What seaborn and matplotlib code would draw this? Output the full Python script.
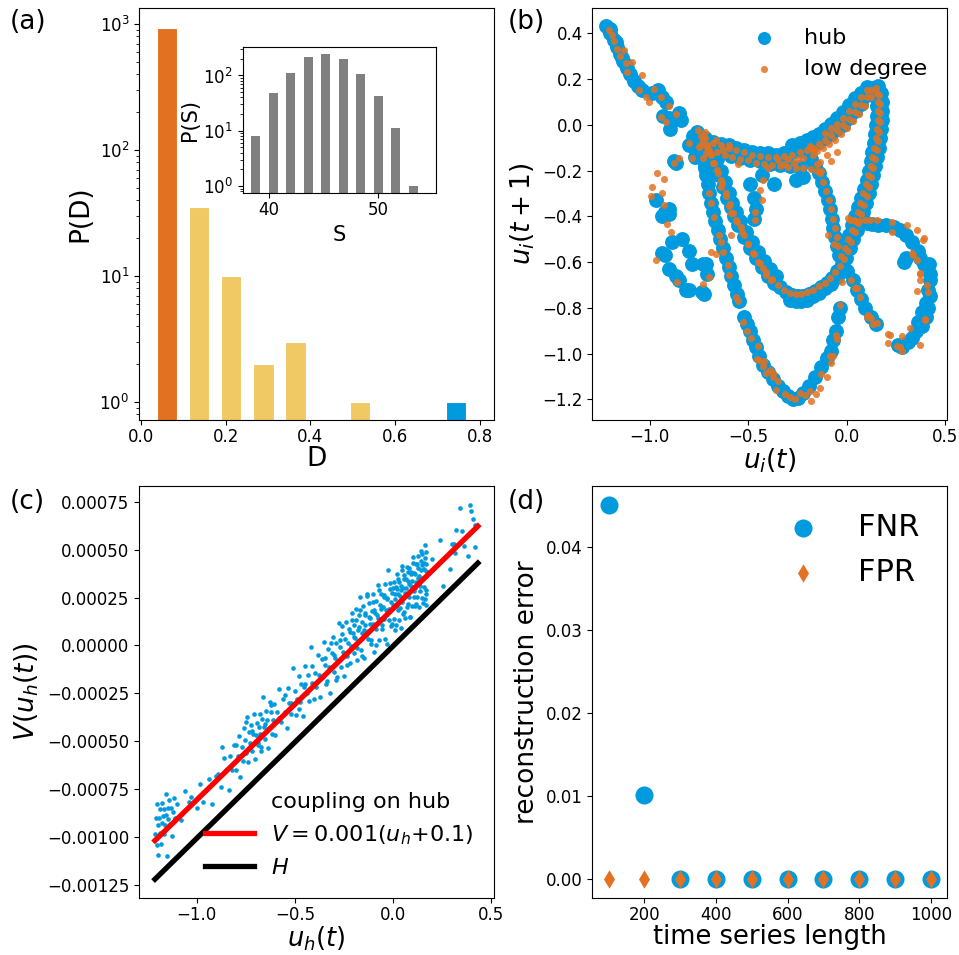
import numpy as np
import pandas as pd
import matplotlib
matplotlib.use('Agg')
import matplotlib.pyplot as plt
from matplotlib.ticker import FuncFormatter
import seaborn as sns

plt.rcParams['xtick.labelsize'] = 12
plt.rcParams['ytick.labelsize'] = 12
plt.rcParams['xtick.major.pad'] = 2.5

BLUE = '#009BDE'
ORANGE = '#E27222'
YELLOW = '#F0C864'

# ---- (a) distribution of D, inset distribution of S
d_centers = [0.061, 0.137, 0.213, 0.289, 0.365, 0.517, 0.745]
d_counts = [930, 35, 10, 2, 3, 1, 1]
d_group = ['low', 'mid', 'mid', 'mid', 'mid', 'mid', 'hub']
d_palette = {'low': ORANGE, 'mid': YELLOW, 'hub': BLUE}

s_centers = [38.8, 40.4, 42.0, 43.6, 45.2, 46.8, 48.4, 50.0, 51.6, 53.2]
s_counts = [8, 49, 112, 212, 245, 195, 105, 43, 11, 1]

# ---- (b) return map u_i(t) -> u_i(t+1), points read along the attractor
hub_tail = [(-1.22, 0.43), (-1.20, 0.40), (-1.18, 0.37), (-1.165, 0.34), (-1.15, 0.31),
            (-1.135, 0.28), (-1.115, 0.25), (-1.10, 0.22), (-1.08, 0.19), (-1.06, 0.17),
            (-1.04, 0.15), (-0.99, 0.14), (-0.96, 0.15), (-0.94, 0.12), (-0.915, 0.10),
            (-0.93, 0.04), (-0.90, 0.03), (-0.88, 0.025), (-0.85, 0.05), (-0.84, 0.02),
            (-0.895, -0.02), (-1.20, 0.42), (-1.17, 0.36), (-1.14, 0.29), (-1.12, 0.26)]
hub_cluster = [(-0.78, -0.05), (-0.76, -0.03), (-0.80, -0.09), (-0.77, -0.14), (-0.74, -0.10),
               (-0.73, -0.15), (-0.72, -0.19)]
hub_top = [(-0.72, -0.06), (-0.68, -0.075), (-0.64, -0.085), (-0.60, -0.09), (-0.56, -0.10),
           (-0.52, -0.11), (-0.48, -0.12), (-0.44, -0.125), (-0.40, -0.125), (-0.36, -0.13),
           (-0.32, -0.125), (-0.28, -0.12), (-0.24, -0.11), (-0.20, -0.10), (-0.17, -0.09),
           (-0.14, -0.075), (-0.11, -0.06), (-0.08, -0.04), (-0.05, -0.02), (-0.02, 0.0),
           (0.01, 0.03), (0.04, 0.06), (0.07, 0.09), (0.10, 0.13), (0.13, 0.16), (0.16, 0.17)]
hub_top_outer = [(0.10, 0.165), (0.07, 0.14), (0.04, 0.115), (0.01, 0.085), (-0.02, 0.055),
                 (-0.05, 0.03), (-0.08, 0.005), (-0.11, -0.02), (-0.14, -0.04), (-0.17, -0.055),
                 (-0.20, -0.065), (-0.24, -0.08), (-0.28, -0.09)]
hub_loop = [(0.175, 0.14), (0.18, 0.10), (0.18, 0.06), (0.18, 0.02), (0.175, -0.02), (0.17, -0.06),
            (0.165, -0.10), (0.155, -0.14), (0.145, -0.18), (0.135, -0.22), (0.12, -0.26),
            (0.11, -0.30), (0.095, -0.34), (0.08, -0.38), (0.065, -0.42), (0.05, -0.46),
            (0.03, -0.50), (0.015, -0.54), (-0.005, -0.58), (-0.025, -0.61), (-0.05, -0.64),
            (-0.075, -0.67), (-0.10, -0.69), (-0.13, -0.71), (-0.16, -0.725), (-0.19, -0.74),
            (-0.22, -0.75), (-0.25, -0.75), (-0.28, -0.745), (-0.31, -0.73), (-0.34, -0.71),
            (-0.37, -0.69), (-0.40, -0.66), (-0.43, -0.62), (-0.46, -0.58), (-0.49, -0.54),
            (-0.52, -0.49), (-0.55, -0.44), (-0.57, -0.40), (-0.59, -0.36), (-0.61, -0.32),
            (-0.63, -0.27), (-0.65, -0.22), (-0.67, -0.17), (-0.69, -0.13), (-0.71, -0.09)]
hub_loop_inner = [(0.15, 0.12), (0.155, 0.08), (0.155, 0.04), (0.15, 0.0), (0.145, -0.04),
                  (0.14, -0.08), (0.13, -0.12), (0.12, -0.16), (0.11, -0.20), (0.10, -0.24),
                  (0.085, -0.28), (0.07, -0.32), (0.055, -0.36), (0.04, -0.40), (0.025, -0.44),
                  (0.01, -0.48), (-0.01, -0.52), (-0.03, -0.56)]
hub_loop_low = [(-0.05, -0.665), (-0.08, -0.695), (-0.11, -0.715), (-0.14, -0.735), (-0.17, -0.75),
                (-0.20, -0.765), (-0.23, -0.77), (-0.26, -0.77), (-0.29, -0.765)]
hub_loop_side = [(-0.66, -0.15), (-0.64, -0.20), (-0.62, -0.25), (-0.60, -0.30), (-0.58, -0.34),
                 (-0.56, -0.38), (-0.54, -0.42), (-0.51, -0.47), (-0.48, -0.51), (-0.45, -0.555),
                 (-0.42, -0.595), (-0.39, -0.63), (-0.36, -0.66)]
hub_inner = [(-0.20, -0.12), (-0.18, -0.15), (-0.16, -0.18), (-0.14, -0.21), (-0.125, -0.25),
             (-0.11, -0.29), (-0.095, -0.33), (-0.085, -0.37), (-0.075, -0.41), (-0.07, -0.45),
             (-0.06, -0.49), (-0.05, -0.53), (-0.04, -0.57)]
hub_band = [(-0.70, -0.11), (-0.64, -0.125), (-0.59, -0.135), (-0.54, -0.145), (-0.49, -0.155),
            (-0.44, -0.16), (-0.39, -0.17), (-0.34, -0.175), (-0.29, -0.18), (-0.24, -0.185),
            (-0.256, -0.24), (-0.22, -0.23), (-0.43, -0.22), (-0.37, -0.26), (-0.49, -0.26),
            (-0.47, -0.32), (-0.46, -0.37), (-0.47, -0.41)]
hub_strand = [(-0.72, -0.18), (-0.715, -0.22), (-0.705, -0.26), (-0.70, -0.30), (-0.69, -0.34),
              (-0.68, -0.38), (-0.67, -0.42), (-0.655, -0.46), (-0.645, -0.50), (-0.63, -0.54),
              (-0.615, -0.58), (-0.60, -0.62), (-0.585, -0.66), (-0.57, -0.70), (-0.555, -0.74),
              (-0.545, -0.77)]
hub_bottom = [(-0.52, -0.84), (-0.505, -0.87), (-0.49, -0.90), (-0.475, -0.94), (-0.46, -0.97),
              (-0.445, -1.01), (-0.425, -1.05), (-0.40, -1.08), (-0.375, -1.11), (-0.35, -1.14),
              (-0.325, -1.165), (-0.30, -1.185), (-0.275, -1.20), (-0.25, -1.195), (-0.22, -1.17),
              (-0.19, -1.14), (-0.16, -1.10), (-0.13, -1.06), (-0.10, -1.02), (-0.08, -0.99),
              (-0.07, -0.94), (-0.055, -0.90), (-0.045, -0.84), (-0.035, -0.80)]
hub_cross = [(0.0, -0.64), (0.03, -0.68), (0.05, -0.72), (0.07, -0.76), (0.09, -0.80),
             (0.12, -0.84), (0.15, -0.87)]
hub_right = [(0.07, -0.42), (0.10, -0.43), (0.13, -0.435), (0.16, -0.44), (0.20, -0.44),
             (0.24, -0.445), (0.27, -0.46), (0.30, -0.48), (0.33, -0.51), (0.36, -0.55),
             (0.37, -0.58), (0.39, -0.61), (0.415, -0.61), (0.42, -0.65), (0.42, -0.68),
             (0.41, -0.72), (0.42, -0.75), (0.40, -0.78), (0.41, -0.80), (0.38, -0.82),
             (0.40, -0.84), (0.36, -0.86), (0.38, -0.88), (0.35, -0.90), (0.33, -0.93),
             (0.31, -0.95), (0.28, -0.97), (0.26, -0.96), (0.30, -0.58), (0.29, -0.60)]
hub_left = [(-0.935, -0.40), (-0.90, -0.39), (-0.885, -0.51), (-0.834, -0.50), (-0.80, -0.55),
            (-0.92, -0.57), (-0.935, -0.56), (-0.90, -0.63), (-0.867, -0.66), (-0.85, -0.68),
            (-0.817, -0.72), (-0.80, -0.72), (-0.783, -0.61), (-0.732, -0.61), (-0.715, -0.61),
            (-0.707, -0.65), (-0.723, -0.74), (-0.736, -0.73), (-0.97, -0.33), (-0.90, -0.37),
            (-0.876, -0.16), (-0.866, -0.165), (-0.92, -0.38)]

low_tail = [(-1.206, 0.412), (-1.18, 0.368), (-1.164, 0.332), (-1.13, 0.325), (-1.088, 0.274),
            (-1.113, 0.23), (-1.037, 0.216), (-1.054, 0.151), (-0.978, 0.158), (-1.02, 0.122),
            (-1.003, 0.10), (-0.944, 0.122), (-0.901, 0.081), (-0.944, 0.035), (-0.918, 0.013),
            (-0.868, 0.049), (-1.19, 0.39), (-1.15, 0.30), (-1.12, 0.27)]
low_cluster = [(-0.757, -0.023), (-0.732, -0.067), (-0.749, -0.096), (-0.707, -0.096), (-0.80, -0.081),
               (-0.715, -0.125), (-0.69, -0.13), (-0.664, -0.067), (-0.63, -0.11), (-0.596, -0.088),
               (-0.783, -0.147), (-0.732, -0.147), (-0.681, -0.168), (-0.656, -0.197), (-0.639, -0.24),
               (-0.639, -0.27), (-0.698, -0.299), (-0.69, -0.342), (-0.613, -0.313), (-0.596, -0.356),
               (-0.588, -0.386), (-0.85, -0.146), (-0.876, -0.168), (-0.74, -0.05), (-0.72, -0.03)]
low_left = [(-0.961, -0.212), (-0.927, -0.238), (-0.986, -0.27), (-0.935, -0.299), (-0.995, -0.313),
            (-0.927, -0.349), (-0.91, -0.432), (-0.893, -0.468), (-0.97, -0.591), (-0.859, -0.686),
            (-0.732, -0.696), (-0.698, -0.664), (-0.69, -0.555), (-0.664, -0.565), (-0.647, -0.483),
            (-0.639, -0.51), (-0.63, -0.555), (-0.605, -0.613), (-0.596, -0.657), (-0.563, -0.751),
            (-0.55, -0.77), (-0.672, -0.403)]
low_side = [(-0.588, -0.483), (-0.563, -0.417), (-0.537, -0.446), (-0.52, -0.483), (-0.503, -0.519),
            (-0.478, -0.562), (-0.452, -0.599), (-0.427, -0.627), (-0.41, -0.657), (-0.385, -0.678)]
low_top = [(-0.72, -0.06), (-0.68, -0.08), (-0.64, -0.09), (-0.60, -0.10), (-0.56, -0.11),
           (-0.52, -0.12), (-0.48, -0.13), (-0.44, -0.135), (-0.40, -0.14), (-0.36, -0.14),
           (-0.32, -0.135), (-0.28, -0.13), (-0.24, -0.12), (-0.20, -0.11), (-0.17, -0.10),
           (-0.14, -0.085), (-0.11, -0.065), (-0.08, -0.045), (-0.05, -0.025), (-0.02, 0.0),
           (0.01, 0.025), (0.04, 0.055), (0.07, 0.085), (0.10, 0.12), (0.125, 0.15), (0.15, 0.16),
           (0.12, 0.12), (0.09, 0.08), (0.06, 0.045), (0.03, 0.015), (0.0, -0.015), (-0.03, -0.04),
           (-0.06, -0.065), (-0.09, -0.085), (-0.12, -0.10), (-0.15, -0.115),
           (0.10, 0.15), (0.07, 0.12), (0.04, 0.09), (0.01, 0.06), (-0.02, 0.03), (-0.05, 0.005),
           (-0.08, -0.015), (-0.11, -0.035)]
low_loop = [(0.165, 0.13), (0.17, 0.09), (0.17, 0.05), (0.17, 0.01), (0.165, -0.03), (0.16, -0.07),
            (0.155, -0.11), (0.145, -0.15), (0.135, -0.19), (0.125, -0.23), (0.11, -0.27),
            (0.10, -0.31), (0.085, -0.35), (0.07, -0.39), (0.055, -0.43), (0.04, -0.47),
            (0.02, -0.51), (0.005, -0.55), (-0.015, -0.585), (-0.035, -0.615), (-0.06, -0.645),
            (-0.085, -0.67), (-0.11, -0.69), (-0.14, -0.705), (-0.17, -0.72), (-0.20, -0.73),
            (-0.23, -0.74), (-0.26, -0.74), (-0.29, -0.735), (-0.32, -0.72), (-0.35, -0.70),
            (-0.38, -0.675), (-0.41, -0.645), (-0.44, -0.605), (-0.47, -0.565), (-0.50, -0.52),
            (-0.53, -0.47), (-0.555, -0.425), (-0.575, -0.385), (-0.595, -0.345), (-0.615, -0.30),
            (-0.635, -0.255), (-0.655, -0.21), (-0.675, -0.165), (-0.695, -0.125), (-0.71, -0.09),
            (0.155, 0.14), (0.16, 0.10), (0.16, 0.06), (0.158, 0.02), (0.152, -0.02), (0.148, -0.06),
            (0.14, -0.10), (0.13, -0.14), (0.12, -0.18), (0.108, -0.22), (0.095, -0.26),
            (0.082, -0.30), (0.068, -0.34), (0.055, -0.38), (0.04, -0.42), (0.025, -0.46),
            (0.008, -0.50), (-0.01, -0.54), (-0.03, -0.575)]
low_band = [(-0.74, -0.09), (-0.70, -0.11), (-0.66, -0.12), (-0.62, -0.13), (-0.58, -0.14),
            (-0.54, -0.15), (-0.50, -0.155), (-0.46, -0.165), (-0.42, -0.17), (-0.38, -0.175),
            (-0.34, -0.18), (-0.30, -0.185), (-0.26, -0.19), (-0.22, -0.19), (-0.18, -0.195),
            (-0.15, -0.2)]
low_inner = [(-0.17, -0.13), (-0.15, -0.17), (-0.135, -0.21), (-0.12, -0.25), (-0.105, -0.29),
             (-0.09, -0.33), (-0.08, -0.37), (-0.07, -0.41), (-0.06, -0.45), (-0.05, -0.49),
             (-0.045, -0.53)]
low_bottom = [(-0.529, -0.86), (-0.508, -0.899), (-0.486, -0.932), (-0.452, -0.968), (-0.447, -1.026),
              (-0.418, -1.033), (-0.427, -1.055), (-0.41, -1.084), (-0.376, -1.10), (-0.457, -1.022),
              (-0.39, -1.073), (-0.375, -1.084), (-0.349, -1.12), (-0.357, -1.157), (-0.315, -1.178),
              (-0.264, -1.2), (-0.239, -1.171), (-0.188, -1.164), (-0.18, -1.207), (-0.154, -1.178),
              (-0.137, -1.149), (-0.129, -1.091), (-0.103, -1.10), (-0.078, -1.04), (-0.086, -1.01),
              (-0.069, -1.01), (-0.056, -0.917), (-0.052, -0.935), (-0.036, -0.787), (-0.027, -0.686),
              (-0.29, -1.19), (-0.21, -1.18)]
low_right = [(0.015, -0.417), (0.117, -0.417), (0.151, -0.417), (0.227, -0.425), (0.303, -0.439),
             (0.354, -0.461), (0.388, -0.504), (0.227, -0.468), (0.329, -0.562), (0.354, -0.591),
             (0.371, -0.649), (0.371, -0.678), (0.405, -0.70), (0.413, -0.729), (0.396, -0.852),
             (0.32, -0.888), (0.278, -0.925), (0.219, -0.917), (0.21, -0.954), (0.252, -0.968),
             (0.278, -0.99), (0.371, -0.961), (0.211, -0.914), (0.27, -0.972), (0.398, -0.849),
             (0.355, -0.726), (0.372, -0.654), (0.338, -0.568), (0.389, -0.495), (0.008, -0.409),
             (0.034, -0.416), (0.06, -0.42), (0.09, -0.415)]
low_cross = [(0.041, -0.714), (0.066, -0.751), (0.108, -0.83), (0.125, -0.845), (0.151, -0.867),
             (0.051, -0.712), (0.10, -0.842), (0.135, -0.871), (0.02, -0.68)]
low_scatter = [(-0.18, -0.103), (-0.22, -0.146), (-0.27, -0.168), (-0.32, -0.17), (-0.129, -0.204),
               (-0.137, -0.161), (-0.186, -0.091), (-0.169, -0.113), (-0.426, -0.243), (-0.44, -0.286),
               (-0.432, -0.329), (-0.465, -0.38), (-0.465, -0.416), (-0.095, -0.483), (-0.064, -0.52),
               (-0.10, -0.13), (-0.05, -0.12), (-0.08, -0.16), (-0.35, -0.155), (-0.30, -0.15),
               (-0.25, -0.15), (-0.40, -0.19), (-0.55, -0.17)]

hub_pts = (hub_tail + hub_cluster + hub_top + hub_top_outer + hub_loop + hub_loop_inner
           + hub_loop_low + hub_loop_side + hub_inner + hub_band + hub_strand + hub_bottom
           + hub_cross + hub_right + hub_left)
low_pts = (low_tail + low_cluster + low_left + low_side + low_top + low_loop + low_band
           + low_inner + low_bottom + low_right + low_cross + low_scatter)

# ---- (c) coupling on hub: u_h and offset of V from the red line (units of 1e-5)
c_u = [-1.215, -1.21, -1.205, -1.20, -1.198, -1.195, -1.19, -1.188, -1.185, -1.18, -1.178, -1.175,
       -1.17, -1.168, -1.165, -1.16, -1.158, -1.155, -1.15, -1.148, -1.145, -1.14, -1.135, -1.13,
       -1.125, -1.12, -1.115, -1.11, -1.10,
       -1.08, -1.06, -1.04, -1.03, -1.0, -0.985, -0.97, -0.955,
       -0.937, -0.92, -0.904, -0.89, -0.878, -0.87, -0.861, -0.85, -0.836, -0.83, -0.82, -0.81, -0.80, -0.80,
       -0.79, -0.785, -0.777, -0.77, -0.765, -0.76, -0.755, -0.75, -0.745, -0.74, -0.735, -0.73, -0.725,
       -0.72, -0.715, -0.71, -0.705, -0.70, -0.695, -0.69, -0.685, -0.68, -0.675, -0.67, -0.665, -0.66,
       -0.655, -0.65, -0.645, -0.64, -0.635, -0.63, -0.625, -0.62, -0.615, -0.61, -0.605, -0.60,
       -0.59, -0.58, -0.57, -0.56, -0.55, -0.54, -0.535, -0.53, -0.52, -0.51, -0.50, -0.495, -0.49, -0.48,
       -0.475, -0.47, -0.46, -0.455, -0.45, -0.44, -0.435, -0.43, -0.42, -0.415, -0.41, -0.40,
       -0.395, -0.39, -0.38, -0.375, -0.37, -0.36, -0.355, -0.35, -0.345, -0.34, -0.33, -0.325, -0.32,
       -0.31, -0.305, -0.30, -0.295, -0.29, -0.285, -0.28, -0.275, -0.27, -0.265, -0.26, -0.255, -0.25,
       -0.245, -0.24, -0.235, -0.23, -0.225, -0.22, -0.215, -0.21, -0.205,
       -0.20, -0.196, -0.192, -0.188, -0.184, -0.18, -0.176, -0.172, -0.168, -0.164, -0.16, -0.156,
       -0.152, -0.148, -0.144, -0.14, -0.136, -0.132, -0.128, -0.124, -0.12, -0.116, -0.112, -0.108,
       -0.104, -0.10, -0.096, -0.092, -0.088, -0.084, -0.08, -0.076, -0.072, -0.068, -0.064, -0.06,
       -0.056, -0.052, -0.048, -0.044, -0.04, -0.036, -0.032, -0.028, -0.024, -0.02, -0.016, -0.012,
       -0.008, -0.004,
       0.0, 0.003, 0.006, 0.009, 0.012, 0.015, 0.018, 0.021, 0.024, 0.027, 0.03, 0.033, 0.036, 0.039,
       0.042, 0.045, 0.048, 0.051, 0.054, 0.057, 0.06, 0.063, 0.066, 0.069, 0.072, 0.075, 0.078, 0.081,
       0.084, 0.087, 0.09, 0.093, 0.096, 0.099, 0.102, 0.105, 0.108, 0.111, 0.114, 0.117, 0.12, 0.123,
       0.126, 0.129, 0.132, 0.135, 0.138, 0.141, 0.144, 0.147, 0.15, 0.153, 0.156, 0.159, 0.162, 0.165,
       0.168, 0.17,
       0.2, 0.239, 0.255, 0.289, 0.30, 0.31, 0.315, 0.323, 0.34, 0.35, 0.36, 0.382, 0.391, 0.40, 0.408,
       0.416, 0.42]
c_off = [4, 12, -3, 18, 7, -9, 10, 2, 14, -5, 6, 16,
         9, -1, 12, 3, 19, 8, -14, 11, 5, 14, 1, 9,
         -6, 6, 13, 2, 8,
         -2, 11, 3, 5, -4, 7, -4, 1,
         5, -10, 3, 3, -5, 15, 8, 1, -11, 6, -2, 10, 9, -4,
         2, 12, -10, 5, -3, 14, 7, 0, 18, -6, 9, 3, 12,
         -2, 6, 16, -8, 4, 10, -1, 7, 13, 2, -5, 9, 20,
         4, -3, 11, 6, -9, 1, 14, 8, -4, 3, 11, -6,
         5, 16, -2, 9, 1, -8, 12, 4, -3, 20, 7, -6, 2, 13,
         -1, 8, -10, 5, 15, 0, 9, -5, 22, 3, 11, -7,
         6, -2, 14, 3, -9, 10, 0, 18, 5, -5, 12, 2, -12,
         8, 16, -3, 4, 11, -7, 1, 20, 7, -4, 13, 3, -10,
         9, 17, -1, 5, 12, -6, 2, 15, 8,
         -3, 11, 4, 19, -8, 7, 1, 14, 23, -5, 9, 3,
         17, -11, 6, 12, 0, 21, -3, 8, 15, 4, -7, 10,
         18, 2, -13, 7, 13, -2, 5, 20, -9, 9, 1, 14,
         -5, 6, 11, -1, 17, 3, -15, 8, 23, -4, 12, 5,
         -8, 9,
         2, 14, -6, 7, -12, 10, 0, 16, -3, 5, -9, 11, 3, -14,
         8, 18, -1, 6, -7, 12, 1, -11, 9, 4, 15, -5, 7, -2,
         13, -13, 3, 10, -8, 5, 17, -4, 8, 0, -10, 12, 2, -6,
         9, 15, -12, 4, -2, 11, 6, -9, 14, 1, -4, 8, -11, 17,
         3, -7,
         6, 12, -13.5, -8, 4, 3, -2, 9, 18.6, 6, -3, -10.7, 15, 11, 6,
         -9, 2]
c_u_dense = [-0.345, -0.335, -0.315, -0.30, -0.29, -0.27, -0.26, -0.25, -0.235, -0.22,
             -0.21, -0.198, -0.19, -0.182, -0.174, -0.166, -0.158, -0.15, -0.142, -0.134,
             -0.126, -0.118, -0.11, -0.102, -0.094, -0.086, -0.078, -0.07, -0.062, -0.054,
             -0.046, -0.038, -0.03, -0.022, -0.014, -0.006, 0.002, 0.01, 0.016, 0.022,
             0.028, 0.034, 0.04, 0.046, 0.052, 0.058, 0.064, 0.07, 0.076, 0.082,
             0.088, 0.094, 0.1, 0.106, 0.112, 0.118, 0.124, 0.13, 0.136, 0.142,
             0.148, 0.154, 0.16, 0.166, 0.17, 0.17, 0.169, 0.168, 0.167,
             -0.55, -0.52, -0.48, -0.45, -0.62, -0.67, -0.72, -0.75, -0.69, -0.65, -0.58]
c_off_dense = [9, -4, 14, 6, -8, 11, 17, 2, -6, 10,
               19, 5, 13, -2, 8, 16, -9, 4, 11, 20,
               1, 7, -5, 14, 9, -10, 3, 17, 6, -3,
               12, -12, 9, 2, 15, -7, 11, 4, -10, 8,
               13, -3, 6, 16, -8, 10, 2, -6, 12, 5,
               -13, 9, 14, -1, 7, -9, 11, 3, -4, 16,
               8, -12, 5, 10, -15, 0, 13, -9, 7,
               10, 3, -4, 6, 12, -7, 8, 16, -2, 5, 1]
red_slope = 0.001
red_shift = 0.19
line_u = [-1.213, 0.433]
red_v = [-0.00102, 0.000623]
h_v = [-0.001222, 0.00043]

# ---- (d) reconstruction error
lengths = [100, 200, 300, 400, 500, 600, 700, 800, 900, 1000]
fnr = [0.0451, 0.0101, 0, 0, 0, 0, 0, 0, 0, 0]
fpr = [0, 0, 0, 0, 0, 0, 0, 0, 0, 0]

fig, axes = plt.subplots(2, 2, figsize=(9.59, 9.55), dpi=100)
fig.subplots_adjust(left=0.145, right=0.9875, top=0.9916, bottom=0.0597,
                    wspace=0.279, hspace=0.160)
ax_a, ax_b, ax_c, ax_d = axes.flat

# (a)
sns.barplot(x=d_centers, y=d_counts, hue=d_group, palette=d_palette, native_scale=True,
            width=0.63, dodge=False, legend=False, edgecolor='white', linewidth=0.8,
            saturation=1, errorbar=None, ax=ax_a)
ax_a.set_yscale('log')
ax_a.set_ylim(0.72, 1340)
ax_a.set_xlim(-0.005, 0.833)
ax_a.set_xticks([0.0, 0.2, 0.4, 0.6, 0.8])
ax_a.set_xlabel('D', fontsize=19, labelpad=0)
ax_a.set_ylabel('P(D)', fontsize=19)

ins = fig.add_axes([0.253, 0.798, 0.202, 0.153])
sns.barplot(x=s_centers, y=s_counts, native_scale=True, width=0.51, color='gray',
            saturation=1, errorbar=None, ax=ins)
ins.set_yscale('log')
ins.set_ylim(0.75, 330)
ins.set_xlim(37.6, 55.3)
ins.set_xticks([40, 50])
ins.set_xlabel('S', fontsize=15)
ins.set_ylabel('P(S)', fontsize=15, labelpad=2)

# (b)
hub_df = pd.DataFrame(hub_pts, columns=['u', 'v'])
low_df = pd.DataFrame(low_pts, columns=['u', 'v'])
sns.scatterplot(data=hub_df, x='u', y='v', color=BLUE, s=115, linewidth=0, label='hub', ax=ax_b)
sns.scatterplot(data=low_df, x='u', y='v', color=ORANGE, s=26, linewidth=0, alpha=0.85,
                label='low degree', ax=ax_b)
ax_b.set_xlim(-1.29, 0.508)
ax_b.set_ylim(-1.29, 0.51)
ax_b.set_xticks([-1.0, -0.5, 0.0, 0.5])
ax_b.set_yticks([-1.2, -1.0, -0.8, -0.6, -0.4, -0.2, 0.0, 0.2, 0.4])
ax_b.set_xlabel('$u_i(t)$', fontsize=19, labelpad=0)
ax_b.set_ylabel('$u_i(t+1)$', fontsize=19)
leg_b = ax_b.legend(loc='upper right', frameon=False, fontsize=16)
leg_b.legend_handles[0].set_sizes([88])

# (c)
all_u = c_u + c_u_dense
all_off = c_off + c_off_dense
c_v = [red_slope * (u + red_shift) + o * 1e-5 for u, o in zip(all_u, all_off)]
ax_c.plot([], [], ' ', label='coupling on hub')
sns.scatterplot(x=all_u, y=c_v, color=BLUE, s=11, linewidth=0, ax=ax_c)
sns.lineplot(x=line_u, y=red_v, color='red', linewidth=3.8,
             label='$V=0.001(u_h$+0.1)', ax=ax_c)
sns.lineplot(x=line_u, y=h_v, color='black', linewidth=3.8, label='$H$', ax=ax_c)
ax_c.set_xlim(-1.294, 0.513)
ax_c.set_ylim(-0.00132, 0.000833)
ax_c.set_xticks([-1.0, -0.5, 0.0, 0.5])
ax_c.set_yticks([-0.00125, -0.001, -0.00075, -0.0005, -0.00025, 0.0, 0.00025, 0.0005, 0.00075])
ax_c.yaxis.set_major_formatter(FuncFormatter(lambda y, p: ('%.5f' % y).replace('-', '\u2212')))
ax_c.set_xlabel('$u_h(t)$', fontsize=18.5, labelpad=0)
ax_c.set_ylabel('$V(u_h(t))$', fontsize=19)
ax_c.legend(loc='lower right', frameon=False, fontsize=16, handlelength=2.2)

# (d)
sns.scatterplot(x=lengths, y=fnr, color=BLUE, s=169, marker='o', linewidth=0, label='FNR', ax=ax_d)
sns.scatterplot(x=lengths, y=fpr, color=ORANGE, s=88, marker='d', linewidth=0, label='FPR', ax=ax_d)
ax_d.set_xticks([200, 400, 600, 800, 1000])
ax_d.set_yticks([0.0, 0.01, 0.02, 0.03, 0.04])
ax_d.set_xlabel('time series length', fontsize=18.5, labelpad=0)
ax_d.set_ylabel('reconstruction error', fontsize=19)
ax_d.legend(loc='upper right', frameon=False, fontsize=22)

for x, y, t in [(0.0104, 0.991, '(a)'), (0.529, 0.991, '(b)'),
                (0.0104, 0.488, '(c)'), (0.529, 0.488, '(d)')]:
    fig.text(x, y, t, fontsize=19, va='top', ha='left')

fig.savefig('out.png', dpi=100)
